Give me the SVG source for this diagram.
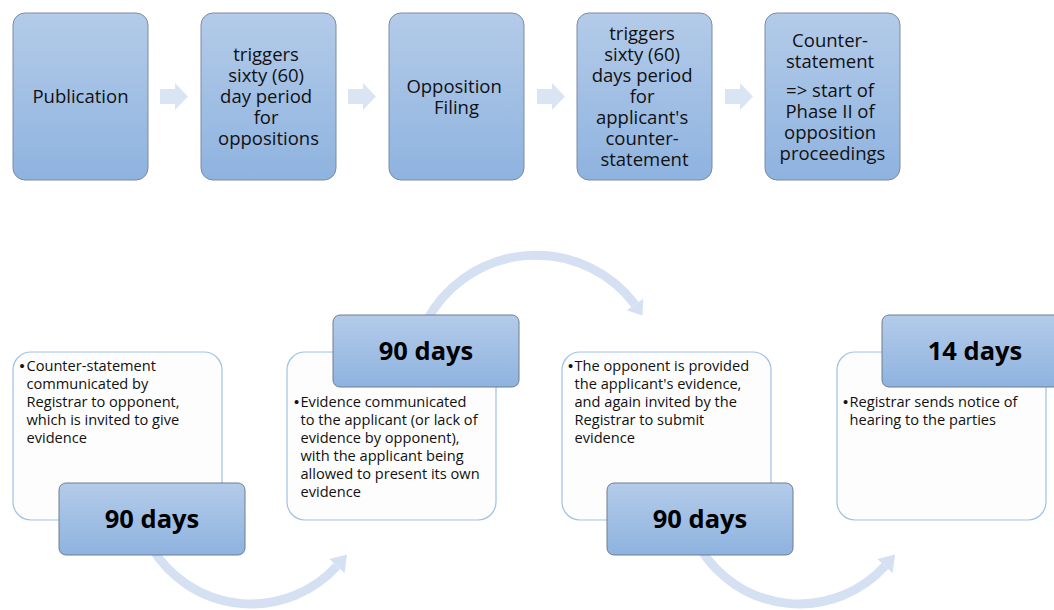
<svg xmlns="http://www.w3.org/2000/svg" width="1054" height="610" viewBox="0 0 1054 610">
  <defs>
    <linearGradient id="blueGrad" x1="0" y1="0" x2="0" y2="1">
      <stop offset="0" stop-color="#b4cbe9"/>
      <stop offset="1" stop-color="#8eb3df"/>
    </linearGradient>
    <style>
      .step { fill: url(#blueGrad); stroke: #7d8ba0; stroke-width: 1; }
      .days { fill: url(#blueGrad); stroke: #6f7d92; stroke-width: 1; }
      .card { fill: #fdfdfd; stroke: #9fc2e7; stroke-width: 1.2; }
      .stepText { font-family: "Open Sans", "Liberation Sans", sans-serif; font-size: 18.5px; fill: #111; text-anchor: middle; }
      .daysText { font-family: "Open Sans", "Liberation Sans", sans-serif; font-size: 25.5px; font-weight: bold; fill: #000; text-anchor: middle; }
      .bullet { font-family: "Open Sans", "Liberation Sans", sans-serif; font-size: 14.6px; fill: #111; }
      .dot { font-family: "Liberation Sans", sans-serif; font-size: 14.6px; fill: #111; }
      .blockArrow { fill: #dae5f3; }
      .arc { fill: none; stroke: #d5e1f2; stroke-width: 9; }
      .arcHead { fill: #d5e1f2; }
    </style>
  </defs>

  <!-- connectors -->
  <g id="connectors">
    <polygon class="blockArrow" points="160,89 175,89 175,83 188,96.5 175,110 175,104 160,104"/>
    <polygon class="blockArrow" points="348,89 363,89 363,83 376,96.5 363,110 363,104 348,104"/>
    <polygon class="blockArrow" points="537,89 552,89 552,83 565,96.5 552,110 552,104 537,104"/>
    <polygon class="blockArrow" points="725,89 740,89 740,83 753,96.5 740,110 740,104 725,104"/>

    <path class="arc" d="M 152 548 A 116 116 0 0 0 337 566"/>
    <polygon class="arcHead" points="347,554.5 344.6,573 329.4,559"/>

    <path class="arc" d="M 426 322 A 124 124 0 0 1 635 304.5"/>
    <polygon class="arcHead" points="642.5,315.5 643.2,298.8 626.8,310.2"/>

    <path class="arc" d="M 700 548 A 116 116 0 0 0 885 566"/>
    <polygon class="arcHead" points="895,554.5 892.6,573 877.4,559"/>
  </g>

  <!-- top row -->
  <g id="publication">
    <rect class="step" x="13" y="13" width="135" height="167" rx="12"/>
    <text class="stepText" x="80.5" y="103">Publication</text>
  </g>
  <g id="triggers-oppositions">
    <rect class="step" x="201" y="13" width="135" height="167" rx="12"/>
    <text class="stepText">
      <tspan x="268.5" y="61">triggers</tspan>
      <tspan x="268.5" y="82">sixty (60)</tspan>
      <tspan x="268.5" y="103">day period</tspan>
      <tspan x="268.5" y="124">for</tspan>
      <tspan x="268.5" y="145">oppositions</tspan>
    </text>
  </g>
  <g id="opposition-filing">
    <rect class="step" x="389" y="13" width="135" height="167" rx="12"/>
    <text class="stepText">
      <tspan x="456.5" y="92.5">Opposition</tspan>
      <tspan x="456.5" y="113.5">Filing</tspan>
    </text>
  </g>
  <g id="triggers-counter-statement">
    <rect class="step" x="577" y="13" width="135" height="167" rx="12"/>
    <text class="stepText">
      <tspan x="644.5" y="40">triggers</tspan>
      <tspan x="644.5" y="61">sixty (60)</tspan>
      <tspan x="644.5" y="82">days period</tspan>
      <tspan x="644.5" y="103">for</tspan>
      <tspan x="644.5" y="124">applicant's</tspan>
      <tspan x="644.5" y="145">counter-</tspan>
      <tspan x="644.5" y="166">statement</tspan>
    </text>
  </g>
  <g id="counter-statement">
    <rect class="step" x="765" y="13" width="135" height="167" rx="12"/>
    <text class="stepText">
      <tspan x="832.5" y="46.5">Counter-</tspan>
      <tspan x="832.5" y="67.5">statement</tspan>
      <tspan x="832.5" y="96.5">=&gt; start of</tspan>
      <tspan x="832.5" y="117.5">Phase II of</tspan>
      <tspan x="832.5" y="138.5">opposition</tspan>
      <tspan x="832.5" y="159.5">proceedings</tspan>
    </text>
  </g>

  <!-- bottom row -->
  <g id="stage1">
    <rect class="card" x="13" y="352" width="209" height="168" rx="18"/>
    <text class="dot" x="19.5" y="371">•</text>
    <text class="bullet">
      <tspan x="26.5" y="371">Counter-statement</tspan>
      <tspan x="26.5" y="389">communicated by</tspan>
      <tspan x="26.5" y="407">Registrar to opponent,</tspan>
      <tspan x="26.5" y="425">which is invited to give</tspan>
      <tspan x="26.5" y="443">evidence</tspan>
    </text>
    <rect class="days" x="59" y="483" width="186" height="72" rx="7"/>
    <text class="daysText" x="152" y="527.5">90 days</text>
  </g>

  <g id="stage2">
    <rect class="card" x="287" y="352" width="209" height="168" rx="18"/>
    <text class="dot" x="294" y="407">•</text>
    <text class="bullet">
      <tspan x="300.5" y="407">Evidence communicated</tspan>
      <tspan x="300.5" y="425">to the applicant (or lack of</tspan>
      <tspan x="300.5" y="443">evidence by opponent),</tspan>
      <tspan x="300.5" y="461">with the applicant being</tspan>
      <tspan x="300.5" y="479">allowed to present its own</tspan>
      <tspan x="300.5" y="497">evidence</tspan>
    </text>
    <rect class="days" x="333" y="315" width="186" height="72" rx="7"/>
    <text class="daysText" x="426" y="359.5">90 days</text>
  </g>

  <g id="stage3">
    <rect class="card" x="562" y="352" width="209" height="168" rx="18"/>
    <text class="dot" x="568" y="371">•</text>
    <text class="bullet">
      <tspan x="574.5" y="371">The opponent is provided</tspan>
      <tspan x="574.5" y="389">the applicant's evidence,</tspan>
      <tspan x="574.5" y="407">and again invited by the</tspan>
      <tspan x="574.5" y="425">Registrar to submit</tspan>
      <tspan x="574.5" y="443">evidence</tspan>
    </text>
    <rect class="days" x="607" y="483" width="186" height="72" rx="7"/>
    <text class="daysText" x="700" y="527.5">90 days</text>
  </g>

  <g id="stage4">
    <rect class="card" x="837" y="352" width="209" height="168" rx="18"/>
    <text class="dot" x="843" y="407">•</text>
    <text class="bullet">
      <tspan x="849.5" y="407">Registrar sends notice of</tspan>
      <tspan x="849.5" y="425">hearing to the parties</tspan>
    </text>
    <rect class="days" x="882" y="315" width="186" height="72" rx="7"/>
    <text class="daysText" x="975" y="359.5">14 days</text>
  </g>
</svg>
